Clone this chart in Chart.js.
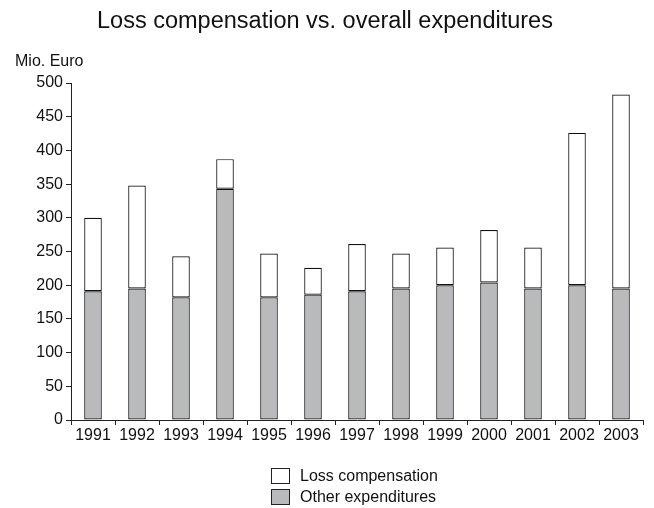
<!DOCTYPE html>
<html>
<head>
<meta charset="utf-8">
<script src="https://cdn.jsdelivr.net/npm/chart.js@4.4.0/dist/chart.umd.min.js"></script>
<style>
  body { margin: 0; background: #fff; font-family: "Liberation Sans", Arial, sans-serif; color: #111; }
  #wrap { position: relative; width: 654px; height: 508px; }
  #title { position: absolute; left: 0; width: 650px; top: 7px; text-align: center; font-size: 23.5px; }
  #unit { position: absolute; left: 15px; top: 52px; font-size: 16px; }
  .leg { position: absolute; left: 271px; font-size: 16px; }
  .leg span.box { position: absolute; left: 0; top: 1px; width: 17px; height: 14px; border: 1px solid #222; }
  .leg span.txt { position: absolute; left: 29px; top: 0px; white-space: nowrap; }
</style>
</head>
<body>
<div id="wrap">
  <canvas id="chart" width="654" height="508"></canvas>
  <div id="title">Loss compensation vs. overall expenditures</div>
  <div id="unit">Mio. Euro</div>
  <div class="leg" style="top:467px"><span class="box" style="background:#fff"></span><span class="txt">Loss compensation</span></div>
  <div class="leg" style="top:488px"><span class="box" style="background:#b9babc"></span><span class="txt">Other expenditures</span></div>
</div>
<script>
// values, Mio. Euro
var years = ['1991','1992','1993','1994','1995','1996','1997','1998','1999','2000','2001','2002','2003'];
var otherExp = [191, 195, 182, 343, 182, 186, 191, 195, 200, 204, 195, 200, 195];
var lossComp = [109, 153, 61, 44, 65, 40, 70, 52, 56, 78, 61, 226, 288];

var tickFont = { family: '"Liberation Sans", Arial, sans-serif', size: 16 };

var ctx = document.getElementById('chart');
var chart = new Chart(ctx, {
  type: 'bar',
  data: {
    labels: years,
    datasets: [
      {
        label: 'Other expenditures',
        data: otherExp,
        backgroundColor: '#b9babc',
        borderColor: '#111',
        borderWidth: 1.2,
        borderSkipped: false,
        barPercentage: 0.4,
        categoryPercentage: 1.0
      },
      {
        label: 'Loss compensation',
        data: lossComp,
        backgroundColor: '#ffffff',
        borderColor: '#111',
        borderWidth: 1.2,
        borderSkipped: false,
        barPercentage: 0.4,
        categoryPercentage: 1.0
      }
    ]
  },
  options: {
    responsive: false,
    animation: false,
    layout: { padding: { left: 0, top: 83, right: 11, bottom: 62 } },
    plugins: {
      legend: { display: false },
      tooltip: { enabled: false }
    },
    scales: {
      x: {
        stacked: true,
        grid: { display: true, drawOnChartArea: false, drawTicks: true, tickLength: 5, color: '#222', offset: true },
        border: { display: true, color: '#222', width: 1 },
        ticks: { color: '#111', font: tickFont, padding: 1, maxRotation: 0 },
        afterFit: function(scale) { scale.height = 26; }
      },
      y: {
        stacked: true,
        min: 0,
        max: 500,
        grid: { display: true, drawOnChartArea: false, drawTicks: true, tickLength: 5, color: '#222' },
        border: { display: true, color: '#222', width: 1 },
        ticks: { stepSize: 50, color: '#111', font: tickFont, padding: 3 },
        afterFit: function(scale) { scale.width = 71; }
      }
    }
  }
});
</script>
</body>
</html>
